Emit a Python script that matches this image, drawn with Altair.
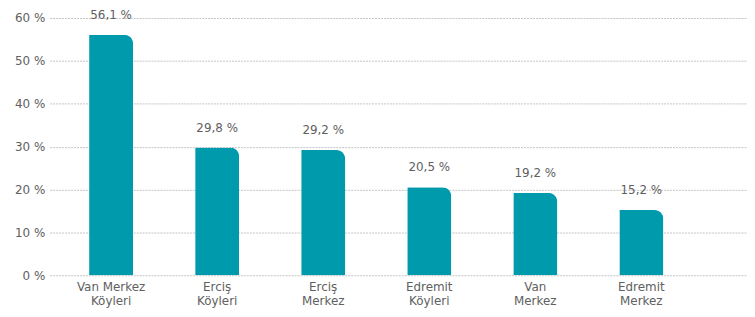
import altair as alt
import pandas as pd

categories = ["Van Merkez|Köyleri", "Erciş|Köyleri", "Erciş|Merkez", "Edremit|Köyleri", "Van|Merkez", "Edremit|Merkez"]
values = [56.1, 29.8, 29.2, 20.5, 19.2, 15.2]
y_ticks = [0, 10, 20, 30, 40, 50, 60]

df = pd.DataFrame({"cat": categories, "val": values})
FONT = "DejaVu Sans"
GRAY = "#606060"

x = alt.X("cat:N", sort=categories, title=None,
          scale=alt.Scale(paddingInner=0.585, paddingOuter=0.58, align=0.32),
          axis=alt.Axis(labelExpr="split(datum.label, '|')", labelAngle=0, domain=False, ticks=False,
                        labelFont=FONT, labelFontSize=12, labelColor=GRAY, labelPadding=6,
                        labelLineHeight=14.5))
y = alt.Y("val:Q", title=None,
          scale=alt.Scale(domain=[0, 60], nice=False),
          axis=alt.Axis(values=y_ticks, labelExpr="datum.value + ' %'", domain=False, ticks=False,
                        labelFont=FONT, labelFontSize=12, labelColor=GRAY, labelPadding=5,
                        grid=True, gridColor="#c4c4c4", gridDash=[2, 1], gridWidth=1))

bars = alt.Chart(df).mark_bar(color="#009aad", cornerRadiusTopRight=9).encode(x=x, y=y)
labels = alt.Chart(df).transform_calculate(
    txt="replace(format(datum.val, '.1f'), '.', ',') + ' %'"
).mark_text(dy=-20, font=FONT, fontSize=12, color=GRAY, baseline="middle").encode(
    x=alt.X("cat:N", sort=categories), y="val:Q", text="txt:N")

chart = (bars + labels).properties(
    width=702, height=259, padding={"left": 42, "top": 9, "right": 0, "bottom": 45},
    autosize=alt.AutoSizeParams(type="none")
).configure_view(stroke=None)

chart.save("out.html", embed_options={"renderer": "svg", "actions": False})
